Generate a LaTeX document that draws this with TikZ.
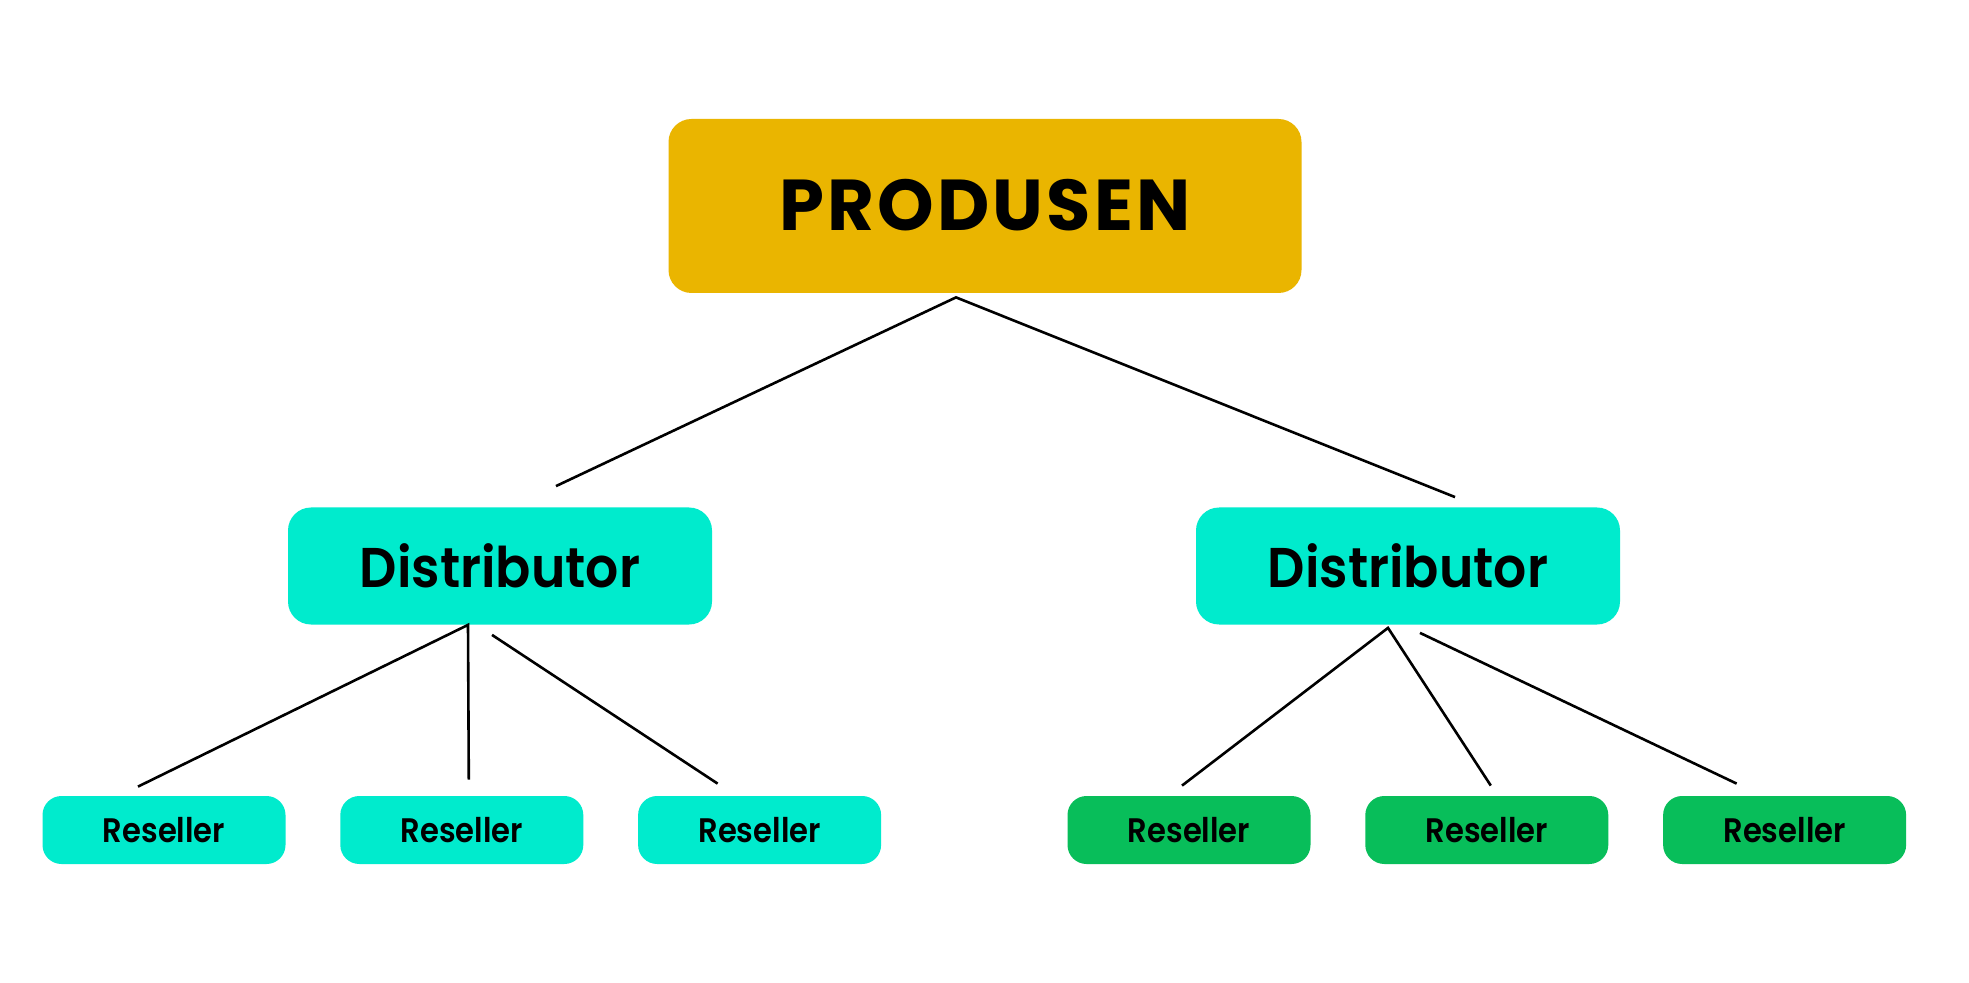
\documentclass[tikz,border=0pt]{standalone}
\usepackage{fontspec}
\setmainfont{Poppins}
\newfontfamily\tebal{Poppins SemiBold}
\usetikzlibrary{positioning,calc}
\definecolor{emas}{RGB}{234,181,0}
\definecolor{toska}{RGB}{0,235,205}
\definecolor{hijau}{RGB}{8,190,90}

\begin{document}
\begin{tikzpicture}[
  x=0.5pt, y=-0.5pt,
  node distance=27pt,
  kotak/.style={rectangle, rounded corners=11.5pt, fill=#1, inner sep=0pt, align=center},
  kotakprod/.style={kotak=emas, minimum width=316.5pt, minimum height=87pt, font=\fontsize{36}{40}\selectfont\bfseries\addfontfeatures{LetterSpace=4.5}},
  kotakdist/.style={kotak=toska, minimum width=212pt, minimum height=58.5pt, font=\fontsize{28}{32}\selectfont\tebal},
  kotakres/.style={kotak=#1, rounded corners=9.5pt, minimum width=121.5pt, minimum height=34pt, font=\fontsize{17}{20}\selectfont\tebal},
  garis/.style={line width=1.3pt, black}
]
\fill[white] (0,0) rectangle (1969,983);
\useasboundingbox (0,0) rectangle (1969,983);
\node[kotakprod] (produsen) at (985,206) {\raisebox{1.5pt}{PRODUSEN}};
\node[kotakdist] (dist1) at (500,566) {\scalebox{0.93}[1]{Distributor}};
\node[kotakdist] (dist2) at (1408,566) {\scalebox{0.93}[1]{Distributor}};
\node[kotakres=toska] (res1) at (164,830) {\scalebox{0.9}[1]{Reseller}};
\node[kotakres=toska, right=of res1] (res2) {\scalebox{0.9}[1]{Reseller}};
\node[kotakres=toska, right=of res2] (res3) {\scalebox{0.9}[1]{Reseller}};
\node[kotakres=hijau] (res4) at (1189,830) {\scalebox{0.9}[1]{Reseller}};
\node[kotakres=hijau, right=of res4] (res5) {\scalebox{0.9}[1]{Reseller}};
\node[kotakres=hijau, right=of res5] (res6) {\scalebox{0.9}[1]{Reseller}};
% produsen ke distributor
\draw[garis] ($(dist1.north)+(56,-21)$) -- ($(produsen.south)+(-29,4)$) -- ($(dist2.north)+(47,-10)$);
% distributor kiri ke reseller
\draw[garis] ($(res1.north)+(-26,-9)$) -- ($(dist1.south)+(-32,0)$) -- ($(res2.north)+(7,-16)$);
\draw[garis] ($(dist1.south)+(-8,10)$) -- ($(res3.north)+(-42,-12)$);
% distributor kanan ke reseller
\draw[garis] ($(res4.north)+(-7,-10)$) -- ($(dist2.south)+(-20,3)$) -- ($(res5.north)+(4,-10)$);
\draw[garis] ($(dist2.south)+(12,8)$) -- ($(res6.north)+(-48,-12)$);
\end{tikzpicture}
\end{document}
